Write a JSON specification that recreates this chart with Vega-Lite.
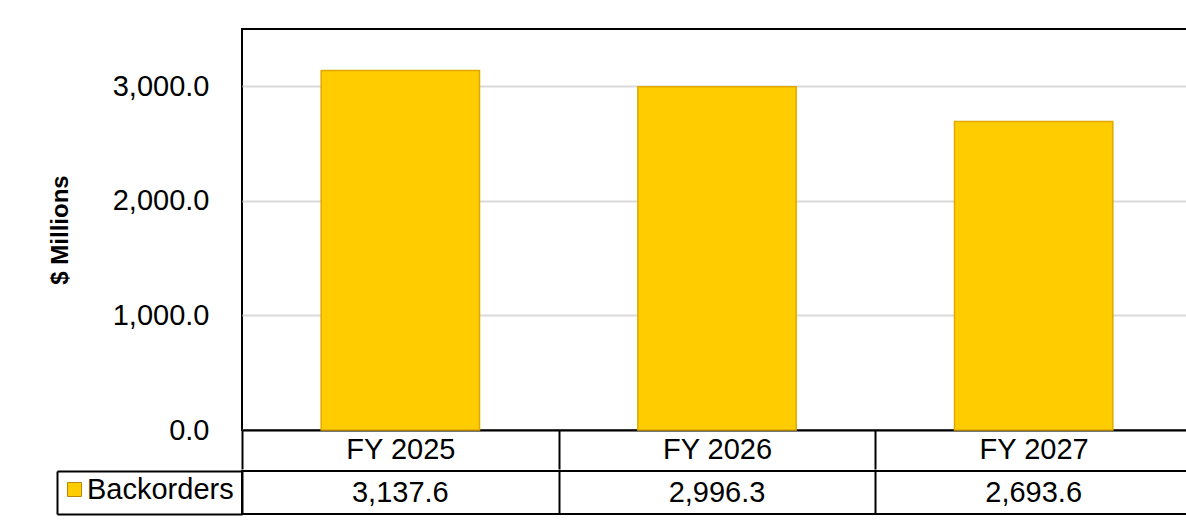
{
  "$schema": "https://vega.github.io/schema/vega-lite/v6.json",
  "padding": {"left": 47, "top": 28, "right": 0, "bottom": 0},
  "background": "white",
  "spacing": -4,
  "config": {
    "font": "Liberation Sans",
    "view": {"stroke": "black", "strokeWidth": 2},
    "axis": {"labelFont": "Liberation Sans", "titleFont": "Liberation Sans", "labelColor": "black", "titleColor": "black"},
    "legend": {"labelFont": "Liberation Sans"}
  },
  "data": {
    "values": [
      {"year": "FY 2025", "series": "Backorders", "value": 3137.6},
      {"year": "FY 2026", "series": "Backorders", "value": 2996.3},
      {"year": "FY 2027", "series": "Backorders", "value": 2693.6}
    ]
  },
  "vconcat": [
    {
      "width": 950,
      "height": 401,
      "mark": {"type": "bar", "width": {"band": 0.5}, "stroke": "#E0A800", "strokeWidth": 1.5},
      "encoding": {
        "x": {
          "field": "year", "type": "nominal", "sort": null,
          "scale": {"paddingInner": 0, "paddingOuter": 0},
          "axis": {
            "title": null, "orient": "bottom", "labelAngle": 0,
            "domainColor": "black", "domainWidth": 2,
            "tickBand": "extent", "tickSize": 39, "tickColor": "black", "tickWidth": 2,
            "labelFontSize": 29, "labelBaseline": "middle", "labelPadding": -19.5
          }
        },
        "y": {
          "field": "value", "type": "quantitative",
          "scale": {"domain": [0, 3500]},
          "axis": {
            "values": [0, 1000, 2000, 3000], "format": ",.1f",
            "title": "$ Millions", "titleFontSize": 24, "titleFontWeight": "bold", "titlePadding": 40,
            "labelFontSize": 29, "labelPadding": 33, "ticks": false, "domain": false,
            "gridColor": "#d9d9d9", "gridWidth": 2
          }
        },
        "color": {
          "field": "series", "type": "nominal",
          "scale": {"range": ["#FFCC00"]},
          "legend": {
            "title": null, "orient": "none", "legendX": -182, "legendY": 446,
            "symbolType": "square", "symbolSize": 196, "symbolStrokeColor": "#B8860B", "symbolStrokeWidth": 1,
            "symbolOpacity": 1,
            "labelFontSize": 29, "labelColor": "black", "labelOffset": -2, "padding": 0
          }
        }
      }
    },
    {
      "width": 950,
      "height": 43,
      "mark": {"type": "text", "fontSize": 29, "font": "Liberation Sans", "color": "black"},
      "encoding": {
        "x": {
          "field": "year", "type": "nominal", "sort": null,
          "scale": {"paddingInner": 0, "paddingOuter": 0},
          "axis": {"title": null, "labels": false, "ticks": false, "domain": false, "grid": true,
                   "tickBand": "extent", "gridColor": "black", "gridWidth": 2}
        },
        "y": {
          "field": "series", "type": "nominal",
          "scale": {"type": "band", "paddingInner": 0, "paddingOuter": 0},
          "axis": {"title": null, "labels": false, "offset": 185,
                   "domainColor": "black", "domainWidth": 2,
                   "tickBand": "extent", "tickSize": -185, "tickColor": "black", "tickWidth": 2}
        },
        "text": {"field": "value", "type": "quantitative", "format": ",.1f"}
      }
    }
  ]
}
